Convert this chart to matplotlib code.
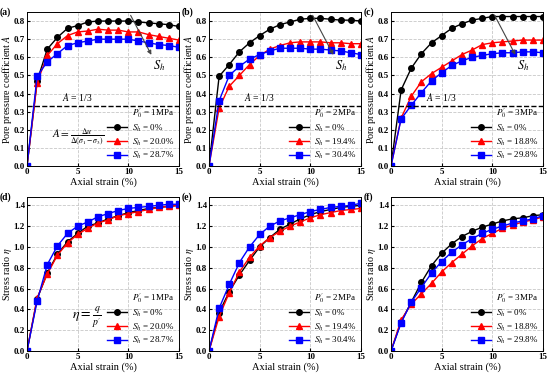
import matplotlib
matplotlib.use("Agg")
import matplotlib.pyplot as plt

plt.rcParams["font.family"] = ["Liberation Serif", "DejaVu Serif"]
plt.rcParams["mathtext.fontset"] = "stix"

strain = list(range(16))

# pore pressure coefficient A (top row)
a_black = [0, 0.47, 0.645, 0.71, 0.76, 0.775, 0.795, 0.80, 0.80, 0.80, 0.80, 0.795, 0.79, 0.785, 0.78, 0.77]
a_red = [0, 0.46, 0.61, 0.675, 0.72, 0.74, 0.745, 0.755, 0.75, 0.75, 0.74, 0.74, 0.725, 0.715, 0.705, 0.695]
a_blue = [0, 0.495, 0.575, 0.62, 0.665, 0.68, 0.69, 0.70, 0.70, 0.70, 0.70, 0.69, 0.68, 0.67, 0.665, 0.655]

b_black = [0, 0.495, 0.56, 0.63, 0.68, 0.72, 0.755, 0.78, 0.795, 0.81, 0.815, 0.815, 0.81, 0.805, 0.805, 0.80]
b_red = [0, 0.32, 0.44, 0.50, 0.56, 0.61, 0.645, 0.665, 0.68, 0.685, 0.685, 0.685, 0.68, 0.68, 0.675, 0.675]
b_blue = [0, 0.36, 0.50, 0.55, 0.59, 0.615, 0.635, 0.65, 0.65, 0.65, 0.645, 0.645, 0.64, 0.635, 0.625, 0.615]

c_black = [0, 0.42, 0.54, 0.62, 0.68, 0.72, 0.76, 0.785, 0.805, 0.815, 0.825, 0.825, 0.825, 0.825, 0.825, 0.825]
c_red = [0, 0.265, 0.385, 0.465, 0.51, 0.545, 0.58, 0.615, 0.64, 0.67, 0.68, 0.685, 0.69, 0.695, 0.695, 0.695]
c_blue = [0, 0.26, 0.335, 0.405, 0.47, 0.515, 0.555, 0.58, 0.60, 0.61, 0.62, 0.625, 0.625, 0.63, 0.63, 0.625]

# stress ratio eta (bottom row)
d_black = [0, 0.50, 0.75, 0.93, 1.05, 1.13, 1.20, 1.23, 1.27, 1.30, 1.33, 1.35, 1.37, 1.38, 1.39, 1.40]
d_red = [0, 0.51, 0.74, 0.92, 1.04, 1.12, 1.18, 1.23, 1.26, 1.30, 1.32, 1.34, 1.36, 1.38, 1.39, 1.40]
d_blue = [0, 0.48, 0.83, 1.01, 1.13, 1.20, 1.24, 1.29, 1.32, 1.35, 1.37, 1.38, 1.39, 1.40, 1.41, 1.41]

e_black = [0, 0.37, 0.57, 0.73, 0.87, 1.00, 1.09, 1.17, 1.22, 1.27, 1.31, 1.34, 1.36, 1.38, 1.39, 1.40]
e_red = [0, 0.33, 0.56, 0.76, 0.90, 1.01, 1.09, 1.15, 1.20, 1.24, 1.28, 1.31, 1.33, 1.35, 1.36, 1.37]
e_blue = [0, 0.41, 0.64, 0.85, 1.00, 1.12, 1.20, 1.25, 1.28, 1.31, 1.34, 1.36, 1.38, 1.39, 1.40, 1.42]

f_black = [0, 0.28, 0.47, 0.66, 0.82, 0.94, 1.03, 1.10, 1.15, 1.19, 1.22, 1.25, 1.27, 1.28, 1.30, 1.31]
f_red = [0, 0.30, 0.45, 0.55, 0.65, 0.76, 0.85, 0.93, 1.01, 1.08, 1.13, 1.18, 1.21, 1.24, 1.26, 1.29]
f_blue = [0, 0.27, 0.47, 0.61, 0.75, 0.86, 0.95, 1.02, 1.08, 1.13, 1.17, 1.20, 1.23, 1.25, 1.27, 1.30]

pressures = ["1MPa", "2MPa", "3MPa"]
hydrate = [["0%", "20.0%", "28.7%"], ["0%", "19.4%", "30.4%"], ["0%", "18.8%", "29.8%"]]
top_series = [(a_black, a_red, a_blue), (b_black, b_red, b_blue), (c_black, c_red, c_blue)]
bot_series = [(d_black, d_red, d_blue), (e_black, e_red, e_blue), (f_black, f_red, f_blue)]
panel_tags = ["(a)", "(b)", "(c)", "(d)", "(e)", "(f)"]

colors = ["black", "red", "blue"]
markers = ["o", "^", "s"]

fig = plt.figure(figsize=(5.5, 3.75), dpi=100)
W, H = 550, 375
lefts = [27, 209, 391]
width = 152
tops = [12, 197]
height = 154


def style_axis(ax):
    ax.set_xlim(0, 15)
    ax.set_xticks([0, 5, 10, 15])
    ax.grid(True, linestyle="--", color="#c8c8c8", linewidth=0.6)
    ax.set_axisbelow(True)
    ax.tick_params(direction="in", labelsize=6.5, length=2, pad=1.5)
    for lab in ax.get_xticklabels() + ax.get_yticklabels():
        lab.set_fontweight("bold")
    ax.set_xlabel("Axial strain (%)", fontsize=7.5, labelpad=1)
    for sp in ax.spines.values():
        sp.set_linewidth(0.7)


def draw_series(ax, series, labels, ptxt):
    for ys, col, mk, lab in zip(series, colors, markers, labels):
        ax.plot(strain, ys, color=col, marker=mk, markersize=4, linewidth=1.0,
                label=r"$S_h$ = " + lab)
    leg = ax.legend(loc="lower right", fontsize=6.5, frameon=False,
                    title=r"$P_0'$ = " + ptxt, title_fontsize=6.5,
                    handlelength=2.3, labelspacing=0.3, borderaxespad=0.1,
                    handletextpad=0.5)
    leg._legend_box.align = "right"


for i in range(3):
    ax = fig.add_axes([lefts[i] / W, 1 - (tops[0] + height) / H, width / W, height / H])
    draw_series(ax, top_series[i], hydrate[i], pressures[i])
    ax.set_ylim(0, 0.85)
    ax.set_yticks([0.0, 0.1, 0.2, 0.3, 0.4, 0.5, 0.6, 0.7, 0.8])
    style_axis(ax)
    ax.set_ylabel("Pore pressure coefficient $A$", fontsize=7.2)
    ax.yaxis.set_label_coords(-0.088, 0.5)
    ax.axhline(1 / 3, color="black", linestyle="--", linewidth=1.0)
    ax.text(5, 0.345, "$A$ = 1/3", fontsize=7, ha="center", va="bottom")
    ax.annotate("", xy=(12.4, 0.6), xytext=(10.1, 0.845),
                arrowprops=dict(arrowstyle="-|>", color="#444444", lw=0.8, mutation_scale=6))
    ax.text(13.0, 0.555, "$S_h$", fontsize=9, ha="center", va="center")
    ax.text(-0.18, 1.0, panel_tags[i], transform=ax.transAxes, fontsize=7,
            fontweight="bold", ha="left", va="center")
    if i == 0:
        ax.text(2.5, 0.16, r"$A = \frac{\Delta u}{\Delta(\sigma_1-\sigma_3)}$",
                fontsize=8, ha="left", va="center")

for i in range(3):
    ax = fig.add_axes([lefts[i] / W, 1 - (tops[1] + height) / H, width / W, height / H])
    draw_series(ax, bot_series[i], hydrate[i], pressures[i])
    ax.set_ylim(0, 1.48)
    ax.set_yticks([0.0, 0.2, 0.4, 0.6, 0.8, 1.0, 1.2, 1.4])
    style_axis(ax)
    ax.set_ylabel(r"Stress ratio $\eta$", fontsize=7.2)
    ax.yaxis.set_label_coords(-0.088, 0.5)
    ax.text(-0.18, 1.0, panel_tags[i + 3], transform=ax.transAxes, fontsize=7,
            fontweight="bold", ha="left", va="center")
    if i == 0:
        ax.text(4.4, 0.32, r"$\eta = \frac{q}{p'}$", fontsize=10, ha="left", va="center")

fig.savefig("out.png", dpi=100)
